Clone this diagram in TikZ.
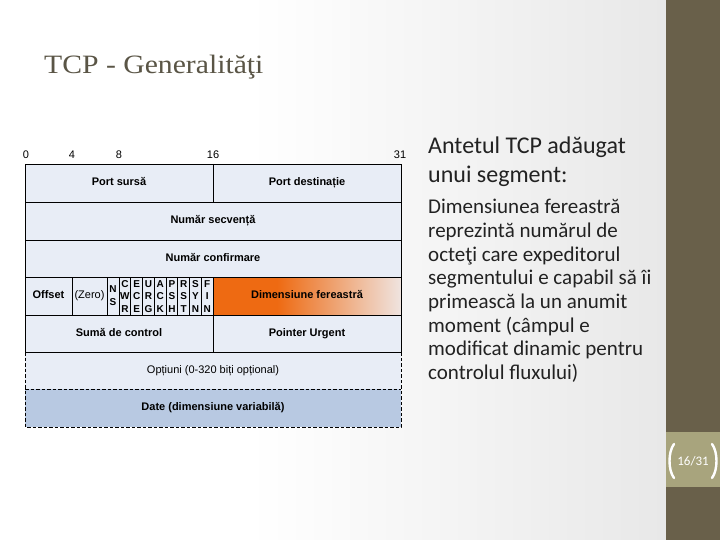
\documentclass[tikz,border=0pt]{standalone}
\usepackage{fontspec}
\setmainfont{Liberation Sans}
\newfontfamily\titlefont[FakeStretch=1.12]{Liberation Serif}
\newfontfamily\bodyfont{Carlito}
\definecolor{orA}{HTML}{EE6A12}
\definecolor{orL}{HTML}{EFE4E0}
\definecolor{bgG}{HTML}{E8E8E8}
\definecolor{barc}{HTML}{69604A}
\definecolor{boxc}{HTML}{A8A47D}
\definecolor{cellc}{HTML}{E8EDF6}
\definecolor{datec}{HTML}{B8C9E2}
\definecolor{titlec}{HTML}{5A5546}
\definecolor{textc}{HTML}{222222}
\pgfdeclarehorizontalshading{orfade}{100bp}{color(0bp)=(orA); color(25bp)=(orA); color(42bp)=(orA); color(75bp)=(orL); color(100bp)=(orL)}
\pgfdeclarehorizontalshading{bgfade}{100bp}{color(0bp)=(white); color(25bp)=(white); color(75bp)=(bgG); color(100bp)=(bgG)}
\tikzset{
  grid/.style={line width=0.9pt, draw=black},
  dgrid/.style={line width=0.9pt, draw=black, dash pattern=on 3.5pt off 2pt},
  bold/.style={font=\bfseries\fontsize{11}{12}\selectfont, inner sep=0pt, text height=8pt, text depth=2.3pt},
  plain/.style={font=\fontsize{11}{12}\selectfont, inner sep=0pt, text height=8pt, text depth=2.3pt},
  flag/.style={font=\bfseries\fontsize{10}{11}\selectfont, inner sep=0pt},
  bitnum/.style={font=\fontsize{11}{12}\selectfont, inner sep=0pt},
  head/.style={font=\bodyfont\fontsize{24}{28}\selectfont, text=textc, anchor=base west, inner sep=0pt},
  body/.style={font=\bodyfont\fontsize{21}{24}\selectfont, text=textc, anchor=base west, inner sep=0pt}
}
\begin{document}
\begin{tikzpicture}[x=1pt,y=-1pt]
\useasboundingbox (0,0) rectangle (720,540);
% background
\fill[white] (0,0) rectangle (666,540);
\shade[shading=bgfade] (250,0) rectangle (666,540);
\fill[barc] (666,0) rectangle (720,540);
\fill[boxc] (666,432) rectangle (720,487);
% page number
\draw[white, line width=2.4pt, line cap=round] (674,444) .. controls (668,452) and (668,470) .. (674,478);
\draw[white, line width=2.4pt, line cap=round] (712,444) .. controls (718,452) and (718,470) .. (712,478);
\node[font=\bodyfont\fontsize{13}{15}\selectfont, text=white, inner sep=0pt] (pg) at (693,461) {16/31};
% title
\node[font=\titlefont\fontsize{26.5}{30}\selectfont, text=titlec, anchor=base west, inner sep=0pt] (title) at (44,74) {TCP - Generalităţi};
% right text
\node[head] (h1) at (428,154) {Antetul TCP adăugat};
\node[head] (h2) at (428,183) {unui segment:};
\foreach \t [count=\k from 0] in {Dimensiunea fereastră, reprezintă numărul de, octeţi care expeditorul, segmentului e capabil să îi, primească la un anumit, moment (câmpul e, modificat dinamic pentru, controlul fluxului)}
  \node[body] (b\k) at (428,{214+23.6*\k}) {\t};
% table fills
\fill[cellc] (25,164) rectangle (401,389);
\shade[shading=orfade] (213,277) rectangle (401,315);
\fill[datec] (25,389) rectangle (401,427);
% solid grid
\draw[grid] (25,164) rectangle (401,352);
\foreach \yy in {202,240,277,315} \draw[grid] (25,\yy) -- (401,\yy);
\draw[grid] (213,164) -- (213,202);
\draw[grid] (213,315) -- (213,352);
\foreach \xx in {72,107,119} \draw[grid] (\xx,277) -- (\xx,315);
\foreach \k in {1,...,8} \draw[grid] ({119+11.75*\k},277) -- ({119+11.75*\k},315);
% dashed part
\draw[dgrid] (25,352) -- (25,427) -- (401,427) -- (401,352);
\draw[dgrid] (25,389) -- (401,389);
% bit numbers
\node[bitnum] (n0) at (26,155) {0};
\node[bitnum] (n4) at (72,155) {4};
\node[bitnum] (n8) at (119,155) {8};
\node[bitnum] (n16) at (213,155) {16};
\node[bitnum] (n31) at (400,155) {31};
% labels
\node[bold] (ps) at (119,183) {Port sursă};
\node[bold] (pd) at (307,183) {Port destinație};
\node[bold] (ns) at (213,221) {Număr secvență};
\node[bold] (nc) at (213,258.5) {Număr confirmare};
\node[bold] (off) at (48.5,296) {Offset};
\node[plain] (zero) at (89.5,296) {(Zero)};
\node[flag] (nsN) at (113,289) {N};
\node[flag] (nsS) at (113,302) {S};
\foreach \a/\b/\c [count=\i from 0] in {C/W/R, E/C/E, U/R/G, A/C/K, P/S/H, R/S/T, S/Y/N, F/I/N} {
  \node[flag] (fa\i) at ({124.9+11.75*\i},284) {\a};
  \node[flag] (fb\i) at ({124.9+11.75*\i},296.5) {\b};
  \node[flag] (fc\i) at ({124.9+11.75*\i},309) {\c};
}
\node[bold] (dw) at (307,296) {Dimensiune fereastră};
\node[bold] (sc) at (119,333.5) {Sumă de control};
\node[bold] (pu) at (307,333.5) {Pointer Urgent};
\node[plain] (op) at (213,370.5) {Opțiuni (0-320 biți opțional)};
\node[bold] (dt) at (213,408) {Date (dimensiune variabilă)};
\end{tikzpicture}
\end{document}
